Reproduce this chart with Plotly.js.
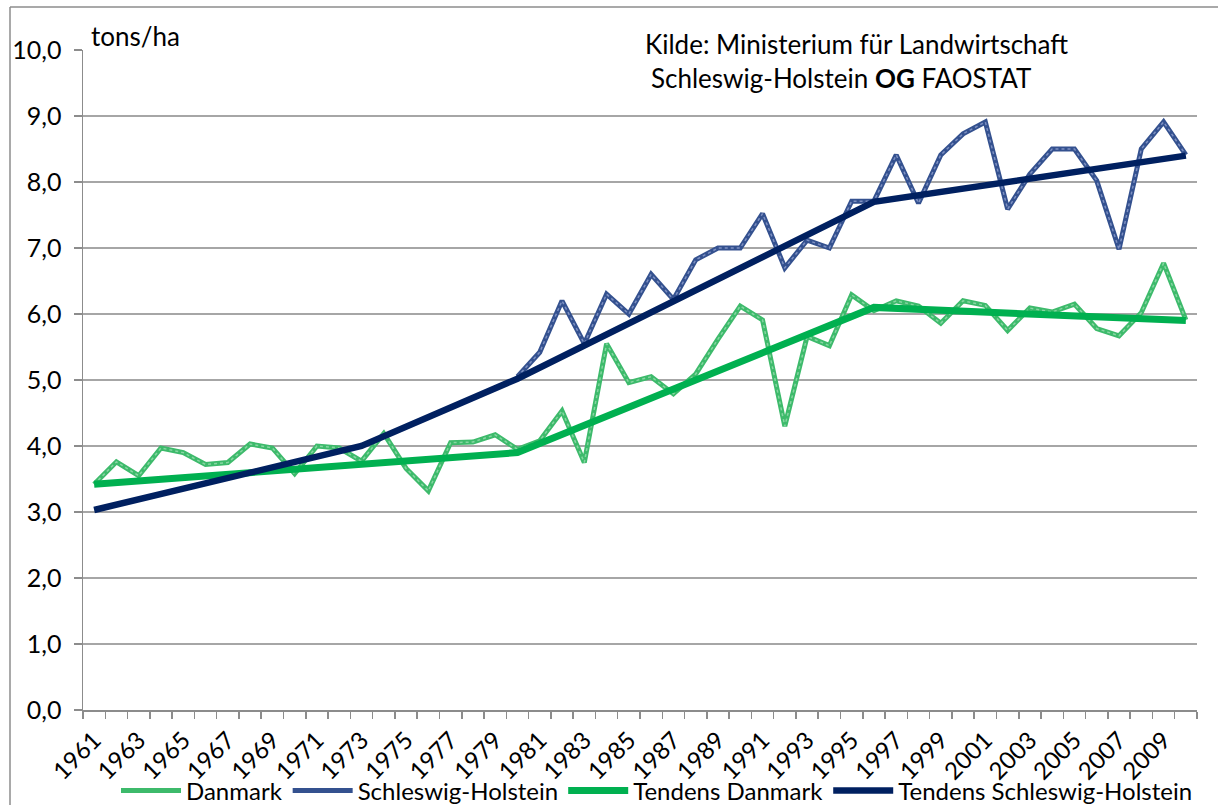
<!DOCTYPE html>
<html>
<head>
<meta charset="utf-8">
<script src="https://cdn.plot.ly/plotly-3.0.1.min.js"></script>
<style>
  html, body { margin: 0; padding: 0; background: #fff; overflow: hidden; }
  #chart { width: 1218px; height: 805px; }
</style>
</head>
<body>
<div id="chart"></div>
<script>
// ---- Data (tons/ha) ----
const years = [1961,1962,1963,1964,1965,1966,1967,1968,1969,1970,
               1971,1972,1973,1974,1975,1976,1977,1978,1979,1980,
               1981,1982,1983,1984,1985,1986,1987,1988,1989,1990,
               1991,1992,1993,1994,1995,1996,1997,1998,1999,2000,
               2001,2002,2003,2004,2005,2006,2007,2008,2009,2010];

const danmark = [3.42,3.76,3.55,3.97,3.90,3.72,3.75,4.03,3.97,3.58,
                 4.00,3.97,3.77,4.19,3.66,3.32,4.05,4.06,4.17,3.95,
                 4.08,4.53,3.75,5.55,4.96,5.05,4.79,5.09,5.62,6.12,
                 5.91,4.30,5.66,5.52,6.29,6.05,6.20,6.12,5.86,6.20,
                 6.13,5.75,6.09,6.03,6.15,5.78,5.67,6.02,6.77,5.91];

const schleswigHolstein = [null,null,null,null,null,null,null,null,null,null,
                 null,null,null,null,null,null,null,null,null,5.05,
                 5.42,6.20,5.55,6.30,6.00,6.60,6.22,6.82,7.00,7.00,
                 7.52,6.70,7.12,7.00,7.71,7.71,8.41,7.68,8.41,8.73,
                 8.91,7.59,8.12,8.50,8.50,8.02,6.98,8.50,8.91,8.41];

const trendYearsDK = [1961, 1980, 1996, 2010];
const trendDK      = [3.42, 3.90, 6.10, 5.90];

const trendYearsSH = [1961, 1973, 1980, 1996, 2010];
const trendSH      = [3.03, 4.00, 5.02, 7.70, 8.40];

const tickYears  = [1961,1963,1965,1967,1969,1971,1973,1975,1977,1979,1981,1983,1985,
                    1987,1989,1991,1993,1995,1997,1999,2001,2003,2005,2007,2009];
const tickLabels = ["1961","1963","1965","1967","1969","1971","1973","1975","1977","1979","1981","1983","1985",
                    "1987","1989","1991","1993","1995","1997","1999","2001","2003","2005","2007","2009"];

const seriesNames = ["Danmark", "Schleswig-Holstein", "Tendens Danmark", "Tendens Schleswig-Holstein"];

// ---- Traces ----
const traces = [
  { x: years, y: danmark, name: seriesNames[0], type: "scatter", mode: "lines",
    line: { color: "#3dba6b", width: 5 }, connectgaps: false },
  { x: years, y: danmark, name: seriesNames[0], type: "scatter", mode: "lines",
    line: { color: "#86d6a2", width: 1.5, dash: "dot" }, showlegend: false, hoverinfo: "skip" },
  { x: years, y: schleswigHolstein, name: seriesNames[1], type: "scatter", mode: "lines",
    line: { color: "#34518f", width: 5 }, connectgaps: false },
  { x: years, y: schleswigHolstein, name: seriesNames[1], type: "scatter", mode: "lines",
    line: { color: "#7d90c2", width: 1.5, dash: "dot" }, showlegend: false, hoverinfo: "skip" },
  { x: trendYearsDK, y: trendDK, name: seriesNames[2], type: "scatter", mode: "lines",
    line: { color: "#00b050", width: 7 } },
  { x: trendYearsSH, y: trendSH, name: seriesNames[3], type: "scatter", mode: "lines",
    line: { color: "#002060", width: 6.5 } }
];

// plot area geometry helpers (pixel -> paper) for decorations
const W = 1218, H = 805;
const PL = 83, PR = 1197, PT = 50, PB = 710;
const px = v => (v - PL) / (PR - PL);
const py = v => (PB - v) / (PB - PT);

const layout = {
  width: W, height: H,
  margin: { l: PL, r: W - PR, t: PT, b: H - PB, pad: 0, autoexpand: false },
  paper_bgcolor: "#fff", plot_bgcolor: "#fff",
  separators: ",.",
  font: { family: "Lato, 'Noto Sans', sans-serif", size: 24, color: "#000" },
  showlegend: true,
  legend: {
    orientation: "h", xref: "container", yref: "container",
    x: 657 / W, xanchor: "center", y: (H - 791) / H, yanchor: "middle",
    font: { size: 24 }, bgcolor: "rgba(0,0,0,0)", traceorder: "normal",
    itemwidth: 60
  },
  xaxis: {
    type: "linear", range: [1960.5, 2010.5], fixedrange: true, automargin: false,
    showgrid: false, zeroline: false,
    showline: true, linecolor: "#8c8c8c", linewidth: 1.5,
    tickmode: "array", tickvals: tickYears, ticktext: tickLabels,
    tickangle: -45, ticks: "", tickfont: { size: 24 }, ticklabelstandoff: 5,
    minor: { ticks: "outside", tick0: 1960.5, dtick: 1, ticklen: 7, tickcolor: "#8c8c8c", tickwidth: 1.5, showgrid: false }
  },
  yaxis: {
    range: [0, 10], dtick: 1, tick0: 0, tickformat: ".1f", fixedrange: true, automargin: false,
    showgrid: true, gridcolor: "#a6a6a6", gridwidth: 1.5, zeroline: false,
    showline: true, linecolor: "#8c8c8c", linewidth: 1.5,
    ticks: "outside", ticklen: 8, tickcolor: "#8c8c8c", tickwidth: 1.5,
    tickfont: { size: 25 }, ticklabelstandoff: 7
  },
  annotations: [
    { text: "tons/ha", xref: "paper", yref: "paper", x: px(89), y: py(36),
      xanchor: "left", yanchor: "middle", showarrow: false, font: { size: 26 } },
    { text: "Kilde: Ministerium für Landwirtschaft", xref: "paper", yref: "paper", x: px(643), y: py(44),
      xanchor: "left", yanchor: "middle", showarrow: false, font: { size: 26 } },
    { text: "Schleswig-Holstein <b>OG</b> FAOSTAT", xref: "paper", yref: "paper", x: px(649), y: py(78),
      xanchor: "left", yanchor: "middle", showarrow: false, font: { size: 26 } }
  ],
  shapes: [
    { type: "line", xref: "paper", yref: "paper", x0: px(10), x1: px(10), y0: py(7), y1: py(900),
      line: { color: "#8c8c8c", width: 1.5 } },
    { type: "line", xref: "paper", yref: "paper", x0: px(10), x1: px(1300), y0: py(7), y1: py(7),
      line: { color: "#8c8c8c", width: 1.5 } }
  ]
};

Plotly.newPlot("chart", traces, layout, { displayModeBar: false, staticPlot: true });
</script>
</body>
</html>
